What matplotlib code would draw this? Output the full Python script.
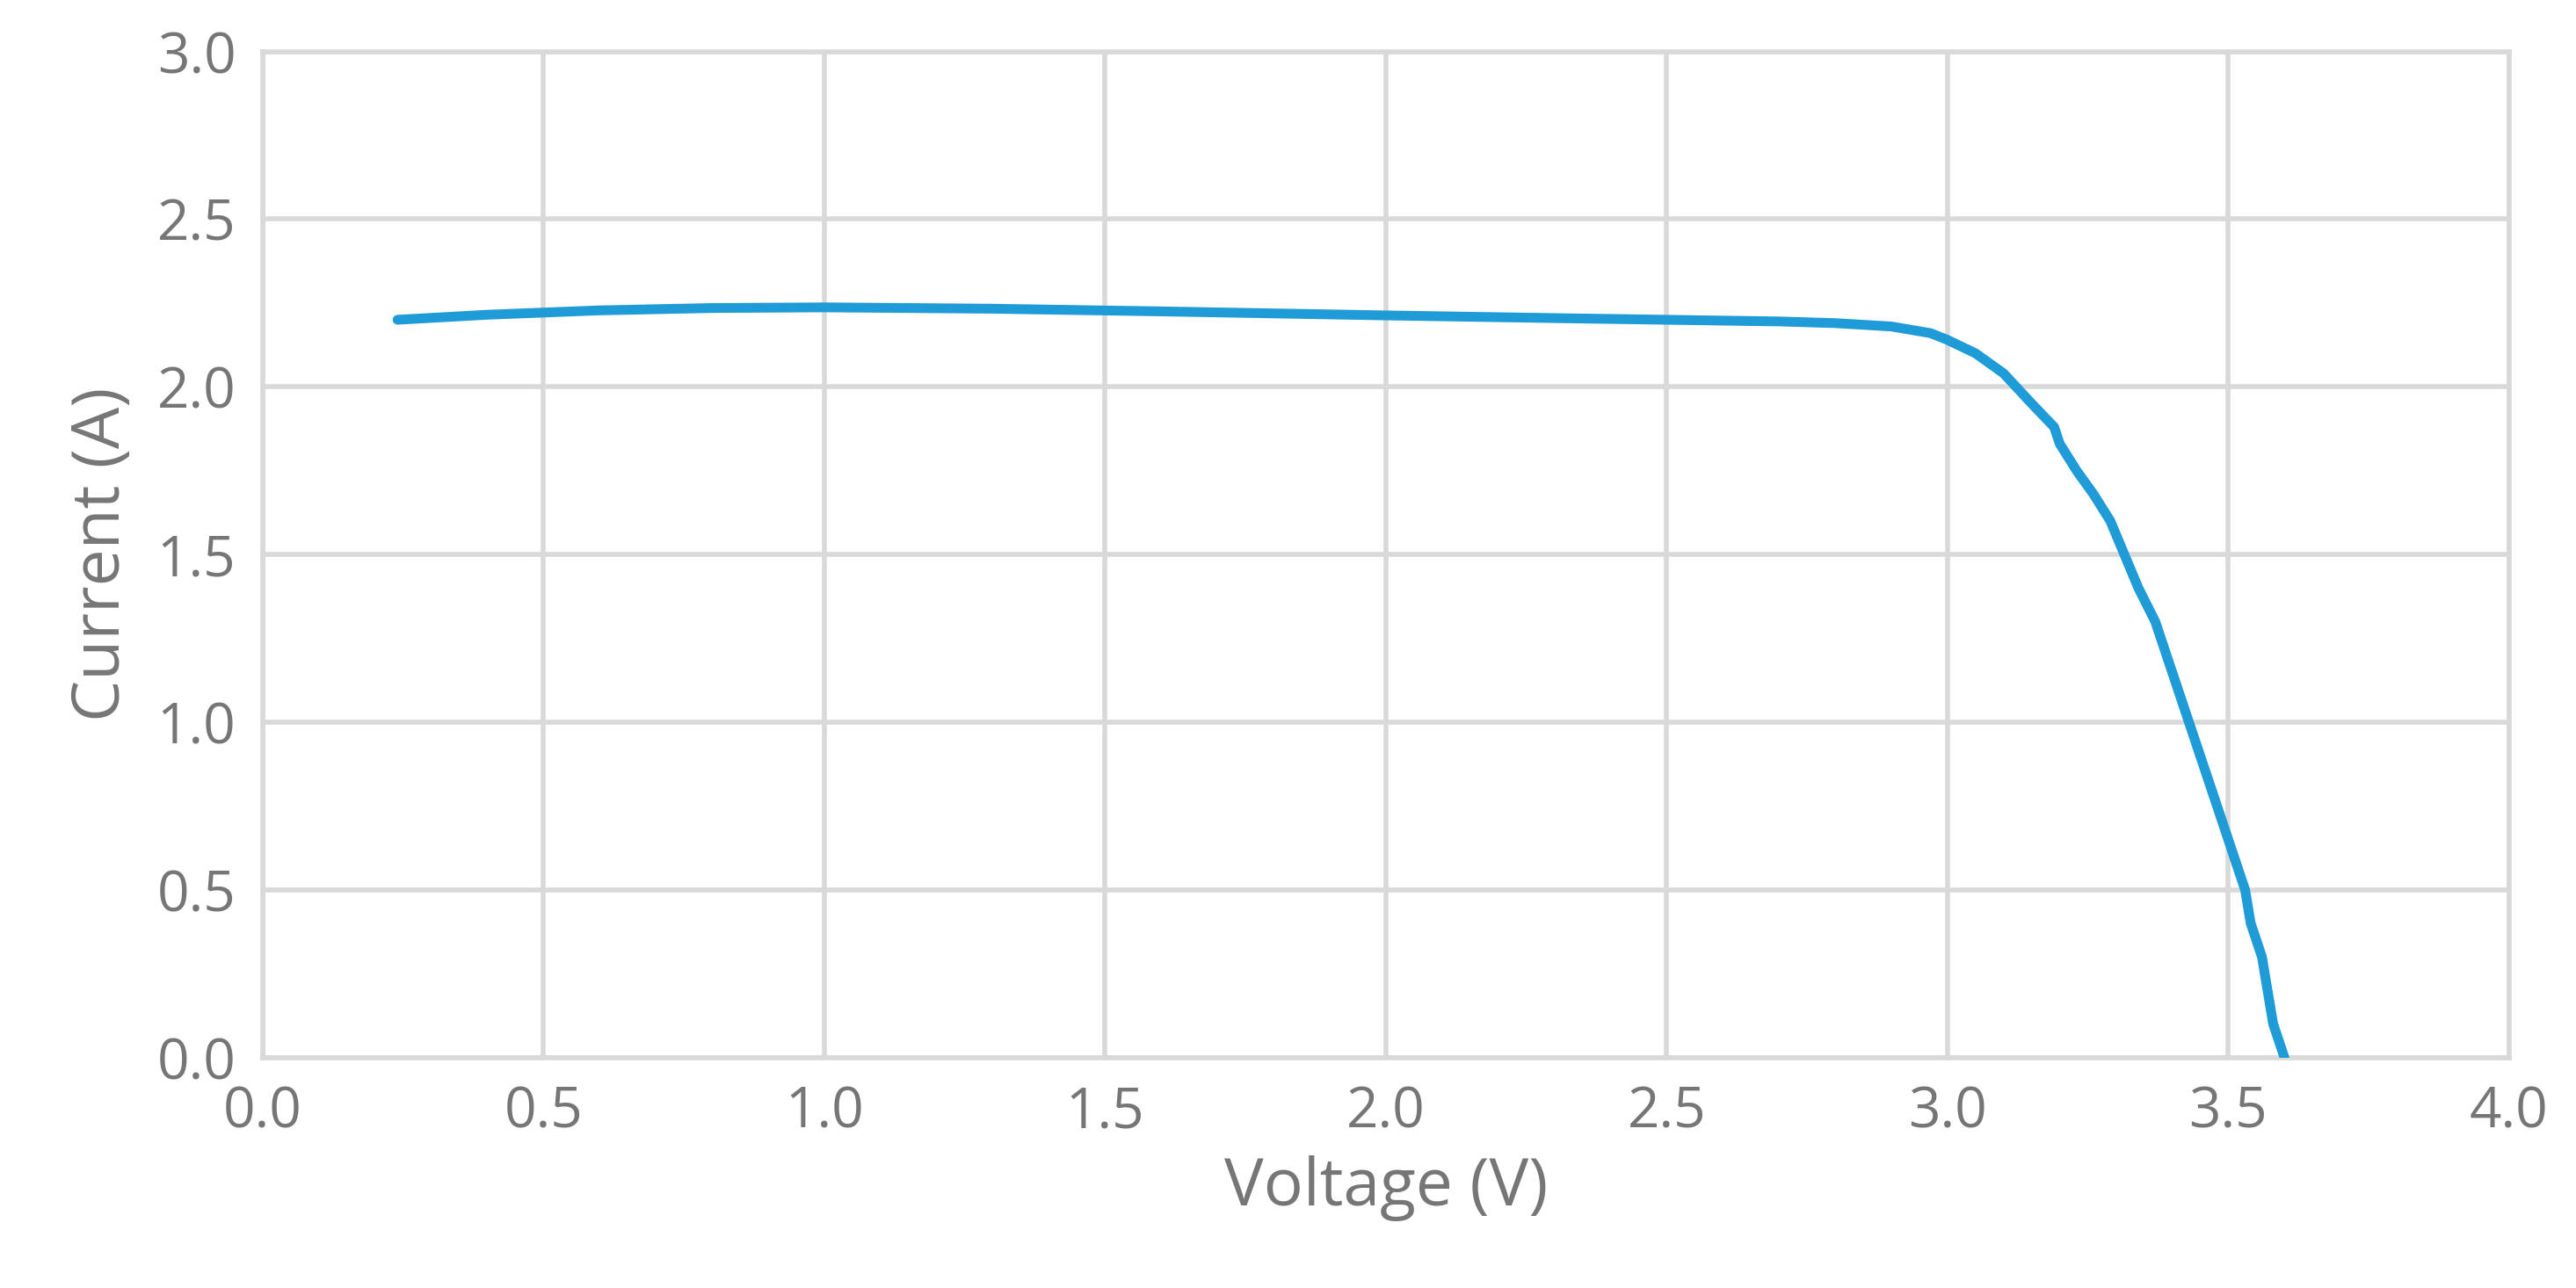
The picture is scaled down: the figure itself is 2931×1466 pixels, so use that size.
import matplotlib.pyplot as plt

plt.rcParams['font.family'] = ['Open Sans', 'DejaVu Sans']

voltage = [0.24, 0.4, 0.6, 0.8, 1.0, 1.3, 1.6, 2.0, 2.3, 2.5, 2.7, 2.8, 2.9, 2.97, 3.0, 3.05,
           3.1, 3.15, 3.19, 3.2, 3.23, 3.26, 3.29, 3.32, 3.34, 3.37, 3.39, 3.41, 3.43, 3.45,
           3.47, 3.49, 3.51, 3.53, 3.54, 3.56, 3.57, 3.58, 3.59, 3.6]
current = [2.2, 2.215, 2.228, 2.235, 2.237, 2.233, 2.225, 2.213, 2.205, 2.2, 2.195, 2.19, 2.18,
           2.16, 2.14, 2.1, 2.04, 1.95, 1.88, 1.83, 1.75, 1.68, 1.6, 1.48, 1.4, 1.3, 1.2, 1.1,
           1.0, 0.9, 0.8, 0.7, 0.6, 0.5, 0.4, 0.3, 0.2, 0.1, 0.05, 0.0]

fig = plt.figure(figsize=(29.31, 14.66), dpi=100)
ax = fig.add_axes([0.102, 0.179, 0.872, 0.781])
ax.plot(voltage, current, color='#1f9bd7', lw=8, solid_capstyle='round', zorder=3)

ax.set_xlim(0, 4)
ax.set_ylim(0, 3)
ax.set_xticks([i * 0.5 for i in range(9)])
ax.set_yticks([i * 0.5 for i in range(7)])
ax.xaxis.set_major_formatter(plt.FormatStrFormatter('%.1f'))
ax.yaxis.set_major_formatter(plt.FormatStrFormatter('%.1f'))
ax.grid(True, color='#d9d9d9', lw=4)
ax.set_axisbelow(True)
for s in ax.spines.values():
    s.set_color('#d9d9d9')
    s.set_linewidth(4)
ax.tick_params(length=0, labelsize=46, labelcolor='#767676', pad=22)
ax.set_xlabel('Voltage (V)', fontsize=54, color='#767676', labelpad=12)
ax.set_ylabel('Current (A)', fontsize=54, color='#767676', labelpad=18)

fig.savefig('out.png')
